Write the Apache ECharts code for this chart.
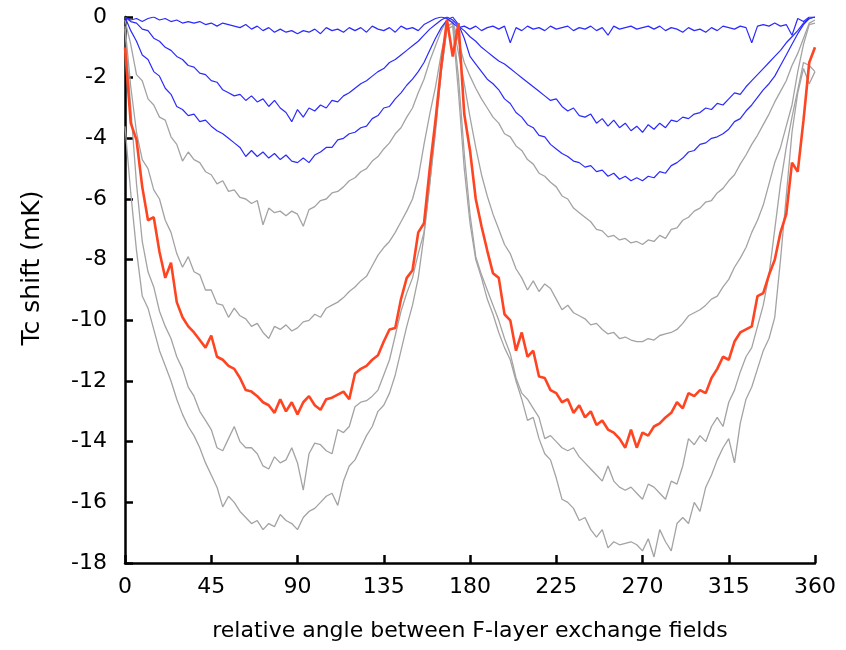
<!DOCTYPE html>
<html>
<head>
<meta charset="utf-8">
<script src="https://cdn.jsdelivr.net/npm/echarts@6/dist/echarts.min.js"></script>
<style>
  html, body { margin: 0; padding: 0; background: #fff; }
  #chart { width: 846px; height: 650px; }
</style>
</head>
<body>
<div id="chart"></div>
<script>
// angle between the two F-layer exchange fields (deg)
const angles = [
  0, 3, 6, 9, 12, 15, 18, 21, 24, 27,
  30, 33, 36, 39, 42, 45, 48, 51, 54, 57,
  60, 63, 66, 69, 72, 75, 78, 81, 84, 87,
  90, 93, 96, 99, 102, 105, 108, 111, 114, 117,
  120, 123, 126, 129, 132, 135, 138, 141, 144, 147,
  150, 153, 156, 159, 162, 165, 168, 171, 174, 177,
  180, 183, 186, 189, 192, 195, 198, 201, 204, 207,
  210, 213, 216, 219, 222, 225, 228, 231, 234, 237,
  240, 243, 246, 249, 252, 255, 258, 261, 264, 267,
  270, 273, 276, 279, 282, 285, 288, 291, 294, 297,
  300, 303, 306, 309, 312, 315, 318, 321, 324, 327,
  330, 333, 336, 339, 342, 345, 348, 351, 354, 357,
  360
];

// Tc shift (mK)
const blue1 = [
  0, -0.1, -0.05, -0.15, -0.05, 0, -0.1, -0.05, -0.15, -0.1,
  -0.2, -0.15, -0.2, -0.15, -0.25, -0.2, -0.3, -0.2, -0.25, -0.3,
  -0.35, -0.25, -0.4, -0.3, -0.45, -0.35, -0.5, -0.4, -0.5, -0.45,
  -0.55, -0.45, -0.5, -0.4, -0.55, -0.35, -0.45, -0.4, -0.5, -0.35,
  -0.45, -0.35, -0.5, -0.3, -0.4, -0.45, -0.35, -0.5, -0.3, -0.4,
  -0.35, -0.45, -0.25, -0.15, -0.05, 0, -0.05, -0.2, -0.35, -0.3,
  -0.4, -0.3, -0.45, -0.35, -0.3, -0.4, -0.3, -0.85, -0.35, -0.45,
  -0.3, -0.4, -0.35, -0.45, -0.3, -0.4, -0.35, -0.3, -0.45, -0.35,
  -0.4, -0.3, -0.45, -0.35, -0.6, -0.3, -0.4, -0.35, -0.3, -0.4,
  -0.35, -0.3, -0.4, -0.3, -0.45, -0.35, -0.4, -0.5, -0.35, -0.45,
  -0.4, -0.5, -0.35, -0.45, -0.3, -0.35, -0.4, -0.3, -0.35, -0.85,
  -0.3, -0.25, -0.3, -0.2, -0.3, -0.25, -0.6, -0.05, -0.15, 0,
  0
];
const blue2 = [
  0, -0.15, -0.2, -0.4, -0.45, -0.7, -0.8, -1.0, -1.1, -1.3,
  -1.4, -1.6, -1.65, -1.85, -1.9, -2.1, -2.15, -2.4, -2.5, -2.6,
  -2.55, -2.75, -2.6, -2.8, -2.7, -2.95, -2.75, -3.0, -3.15, -3.45,
  -3.05, -3.3, -3.0, -3.1, -2.9, -3.0, -2.75, -2.8, -2.6, -2.5,
  -2.35, -2.2, -2.1, -1.95, -1.8, -1.7, -1.5, -1.4, -1.25, -1.1,
  -0.95, -0.8, -0.6, -0.4, -0.25, -0.1, 0, -0.1, -0.3, -0.45,
  -0.65, -0.8, -1.0, -1.15, -1.3, -1.45, -1.55, -1.7, -1.85, -2.0,
  -2.15, -2.3, -2.45, -2.6, -2.75, -2.7, -2.95, -3.1, -3.0, -3.25,
  -3.3, -3.2, -3.5, -3.35, -3.6, -3.4, -3.65, -3.5, -3.75, -3.6,
  -3.8, -3.55, -3.7, -3.5, -3.65, -3.4, -3.45, -3.3, -3.35, -3.2,
  -3.15, -3.0, -3.05, -2.85, -2.9, -2.7, -2.5, -2.55, -2.3, -2.1,
  -1.9, -1.7, -1.5, -1.3, -1.1, -0.85, -0.65, -0.45, -0.2, -0.05,
  0
];
const blue3 = [
  0, -0.45, -0.8, -1.25, -1.4, -1.8, -1.95, -2.35, -2.55, -2.95,
  -3.05, -3.25, -3.2, -3.45, -3.4, -3.6, -3.75, -3.85, -4.0, -4.15,
  -4.3, -4.6, -4.4, -4.6, -4.45, -4.65, -4.5, -4.7, -4.55, -4.75,
  -4.8, -4.65, -4.8, -4.55, -4.45, -4.3, -4.3, -4.05, -4.0, -3.85,
  -3.8, -3.65, -3.6, -3.35, -3.25, -3.0, -2.95, -2.7, -2.5, -2.25,
  -2.05, -1.8, -1.5, -1.1, -0.7, -0.35, -0.1, 0, -0.25, -0.7,
  -1.3, -1.55, -1.8, -2.05, -2.2, -2.4, -2.7, -2.85, -3.15, -3.3,
  -3.55, -3.65, -3.9, -3.95, -4.2, -4.35, -4.5, -4.6, -4.75, -4.8,
  -4.95, -4.9, -5.1, -5.05, -5.25, -5.15, -5.35, -5.25, -5.4, -5.3,
  -5.4, -5.25, -5.3, -5.1, -5.15, -4.9, -4.8, -4.65, -4.45, -4.4,
  -4.2, -4.15, -4.0, -3.95, -3.85, -3.7, -3.45, -3.35, -3.1, -2.9,
  -2.65, -2.4, -2.2, -1.95, -1.6, -1.25, -0.9, -0.55, -0.25, -0.05,
  0
];
const gray1 = [
  -0.1, -0.9, -1.9, -2.1, -2.7, -2.9, -3.3, -3.4, -3.95, -4.2,
  -4.75, -4.45, -4.7, -4.8, -5.1, -5.2, -5.5, -5.4, -5.75, -5.7,
  -5.95, -6.0, -6.15, -6.05, -6.85, -6.3, -6.45, -6.4, -6.55, -6.4,
  -6.5, -6.9, -6.35, -6.25, -6.05, -6.0, -5.8, -5.75, -5.6, -5.4,
  -5.3, -5.1, -5.0, -4.75, -4.6, -4.35, -4.15, -3.85, -3.65, -3.3,
  -3.0, -2.5, -2.05, -1.45, -0.95, -0.45, -0.1, -0.15, -0.8, -1.5,
  -1.95, -2.35, -2.7, -3.0, -3.3, -3.5, -3.85, -3.95, -4.25, -4.4,
  -4.7, -4.85, -5.15, -5.25, -5.45, -5.6, -5.9, -6.0, -6.3, -6.45,
  -6.6, -6.75, -7.0, -7.05, -7.25, -7.2, -7.35, -7.3, -7.45, -7.4,
  -7.5, -7.35, -7.4, -7.2, -7.3, -7.0, -6.95, -6.7, -6.6, -6.4,
  -6.3, -6.1, -6.05, -5.8, -5.65, -5.4, -5.2, -4.85, -4.55, -4.2,
  -3.9, -3.55, -3.2, -2.8, -2.45, -2.1, -1.6, -1.2, -0.7, -0.2,
  -0.1
];
const gray2 = [
  -0.3, -2.3, -3.8, -4.7, -5.0, -5.7, -6.0, -6.7, -7.1, -7.8,
  -8.25, -7.9, -8.4, -8.5, -9.0, -9.0, -9.45, -9.5, -9.9, -9.6,
  -9.85, -9.95, -10.2, -10.1, -10.4, -10.6, -10.2, -10.3, -10.15, -10.35,
  -10.25, -10.05, -10.0, -9.8, -9.9, -9.6, -9.5, -9.4, -9.25, -9.05,
  -8.9, -8.7, -8.55, -8.2, -7.85, -7.6, -7.4, -7.1, -6.75, -6.4,
  -6.0, -5.3, -4.2, -3.2, -2.3, -1.2, -0.3, -0.2, -1.2, -2.2,
  -3.3, -4.3, -5.2, -5.9, -6.5, -7.0, -7.5, -7.8, -8.3, -8.6,
  -9.0, -8.7, -9.05, -8.8, -8.95, -9.3, -9.65, -9.5, -9.75, -9.85,
  -9.95, -10.15, -10.1, -10.3, -10.45, -10.4, -10.6, -10.55, -10.65, -10.7,
  -10.7, -10.6, -10.65, -10.5, -10.45, -10.4, -10.3, -10.1, -9.85, -9.75,
  -9.65, -9.5, -9.3, -9.2, -8.9, -8.65, -8.25, -7.95, -7.6, -7.1,
  -6.7, -6.2, -5.5, -4.8, -4.3, -3.6, -2.9, -1.8, -0.9, -0.25,
  -0.2
];
const red = [
  -1.0, -3.5, -4.05, -5.6, -6.7, -6.6, -7.75, -8.6, -8.1, -9.4,
  -9.9, -10.2, -10.4, -10.65, -10.9, -10.5, -11.2, -11.3, -11.5, -11.6,
  -11.9, -12.3, -12.35, -12.5, -12.7, -12.8, -13.05, -12.6, -13.0, -12.7,
  -13.1, -12.7, -12.5, -12.8, -12.95, -12.6, -12.55, -12.45, -12.35, -12.6,
  -11.75, -11.6, -11.5, -11.3, -11.15, -10.7, -10.3, -10.25, -9.3, -8.6,
  -8.35, -7.1, -6.8, -5.0, -3.4, -1.6, -0.1, -1.3, -0.2, -3.2,
  -4.4, -6.0, -6.9, -7.7, -8.45, -8.6, -9.8, -10.0, -11.0, -10.4,
  -11.2, -11.0, -11.85, -11.9, -12.3, -12.4, -12.7, -12.6, -13.05, -12.8,
  -13.2, -13.0, -13.45, -13.3, -13.6, -13.7, -13.9, -14.2, -13.6, -14.2,
  -13.7, -13.8, -13.5, -13.4, -13.2, -13.05, -12.7, -12.9, -12.4, -12.5,
  -12.3, -12.4, -11.9, -11.6, -11.2, -11.3, -10.7, -10.4, -10.3, -10.2,
  -9.2, -9.1, -8.5, -8.0, -7.1, -6.5, -4.8, -5.1, -3.4, -1.5,
  -1.0
];
const gray3 = [
  -0.4, -3.0, -5.5, -7.4, -8.4, -8.9, -9.7, -10.2, -10.6, -11.2,
  -11.6, -12.2, -12.5, -13.0, -13.3, -13.6, -14.2, -14.3, -13.9, -13.5,
  -14.0, -14.2, -14.2, -14.4, -14.8, -14.9, -14.5, -14.7, -14.6, -14.2,
  -14.7, -15.6, -14.4, -14.05, -14.1, -14.3, -14.4, -13.6, -13.7, -13.5,
  -12.85, -12.7, -12.65, -12.5, -12.3, -11.8, -11.3, -10.5, -9.7, -9.1,
  -8.6, -7.8, -7.1, -5.5, -3.8, -1.8, -0.3, -0.2, -2.0, -4.5,
  -6.5, -7.9, -8.5, -9.0, -9.5, -10.0, -10.6, -11.1, -11.9, -12.4,
  -12.6, -12.9, -13.2, -13.9, -13.8, -14.0, -14.2, -14.3, -14.2, -14.5,
  -14.7, -14.9, -15.1, -15.3, -14.8, -15.3, -15.5, -15.6, -15.5, -15.7,
  -15.9, -15.4, -15.5, -15.7, -15.9, -15.3, -15.4, -14.8, -13.9, -14.1,
  -13.8, -14.0, -13.5, -13.2, -13.5, -12.7, -12.3, -11.7, -11.2, -10.9,
  -10.2, -9.5, -8.5, -7.0, -5.5, -4.3, -3.3, -2.4, -1.5, -1.6,
  -1.8
];
const gray4 = [
  -3.6, -5.8, -7.7, -9.2, -9.6, -10.3, -11.0, -11.5, -12.0, -12.6,
  -13.1, -13.5, -13.8, -14.2, -14.7, -15.1, -15.5, -16.15, -15.8, -16.0,
  -16.3, -16.5, -16.7, -16.6, -16.9, -16.7, -16.8, -16.4, -16.6, -16.7,
  -16.9, -16.5, -16.3, -16.2, -16.0, -15.8, -15.7, -16.1, -15.3, -14.8,
  -14.6, -14.2, -13.8, -13.5, -13.0, -12.8, -12.4, -11.8, -11.0, -10.2,
  -9.5, -8.6, -7.2, -5.5, -3.6, -1.8, -0.4, -0.3, -2.5, -5.0,
  -6.8, -8.0, -8.6, -9.3, -9.8, -10.4, -10.9, -11.3, -12.0, -12.6,
  -13.3, -13.2, -13.9, -14.4, -14.6, -15.2, -15.9, -16.0, -16.2, -16.6,
  -16.5, -16.9, -17.15, -16.9, -17.5, -17.3, -17.4, -17.35, -17.3, -17.4,
  -17.6, -17.2, -17.8, -16.9, -17.3, -17.6, -16.7, -16.5, -16.7, -16.0,
  -16.3, -15.5, -15.1, -14.6, -14.2, -13.9, -14.7, -13.4, -12.6, -12.2,
  -11.6, -11.0, -10.6, -9.9, -8.0, -5.9, -3.8, -2.5, -1.7, -2.2,
  -1.8
];

const xTicks = [0, 45, 90, 135, 180, 225, 270, 315, 360];
const yTicks = [0, -2, -4, -6, -8, -10, -12, -14, -16, -18];

const BLUE = '#2a2aff';
const GRAY = '#a3a3a3';
const RED = '#ff4422';
const FONT = 'DejaVu Sans';

const pairs = (vals) => angles.map((a, i) => [a, vals[i]]);

const lineSeries = (name, vals, color, width, z) => ({
  name: name,
  type: 'line',
  data: pairs(vals),
  showSymbol: false,
  symbol: 'none',
  z: z,
  lineStyle: { color: color, width: width },
  emphasis: { disabled: true }
});

const chart = echarts.init(document.getElementById('chart'), null, { renderer: 'canvas' });

chart.setOption({
  animation: false,
  backgroundColor: '#fff',
  grid: { left: 125, right: 31, top: 17, bottom: 87 },
  // y axis title sits a little above the middle in the original
  graphic: [
    {
      type: 'text',
      x: 32,
      y: 268,
      rotation: Math.PI / 2,
      style: {
        text: 'Tc shift (mK)',
        fontFamily: FONT,
        fontSize: 25,
        fill: '#000',
        align: 'center',
        verticalAlign: 'middle'
      }
    }
  ],
  xAxis: {
    type: 'value',
    min: xTicks[0],
    max: xTicks[xTicks.length - 1],
    interval: 45,
    name: 'relative angle between F-layer exchange fields',
    nameLocation: 'middle',
    nameGap: 57,
    nameTextStyle: { fontFamily: FONT, fontSize: 22, color: '#000' },
    axisLine: { onZero: false, lineStyle: { color: '#000', width: 2.5 } },
    axisTick: { inside: true, length: 8, lineStyle: { color: '#000', width: 2.5 } },
    axisLabel: { fontFamily: FONT, fontSize: 22, color: '#000', margin: 13 },
    splitLine: { show: false }
  },
  yAxis: {
    type: 'value',
    min: yTicks[yTicks.length - 1],
    max: yTicks[0],
    interval: 2,
    axisLine: { show: true, onZero: false, lineStyle: { color: '#000', width: 2.5 } },
    axisTick: { show: true, inside: true, length: 8, lineStyle: { color: '#000', width: 2.5 } },
    axisLabel: { fontFamily: FONT, fontSize: 22, color: '#000', margin: 18 },
    splitLine: { show: false }
  },
  series: [
    lineSeries('g4', gray4, GRAY, 1.3, 2),
    lineSeries('g3', gray3, GRAY, 1.3, 2),
    lineSeries('g2', gray2, GRAY, 1.3, 2),
    lineSeries('g1', gray1, GRAY, 1.3, 2),
    lineSeries('b3', blue3, BLUE, 1.2, 3),
    lineSeries('b2', blue2, BLUE, 1.2, 3),
    lineSeries('b1', blue1, BLUE, 1.2, 3),
    lineSeries('red', red, RED, 2.6, 4)
  ]
});
</script>
</body>
</html>
